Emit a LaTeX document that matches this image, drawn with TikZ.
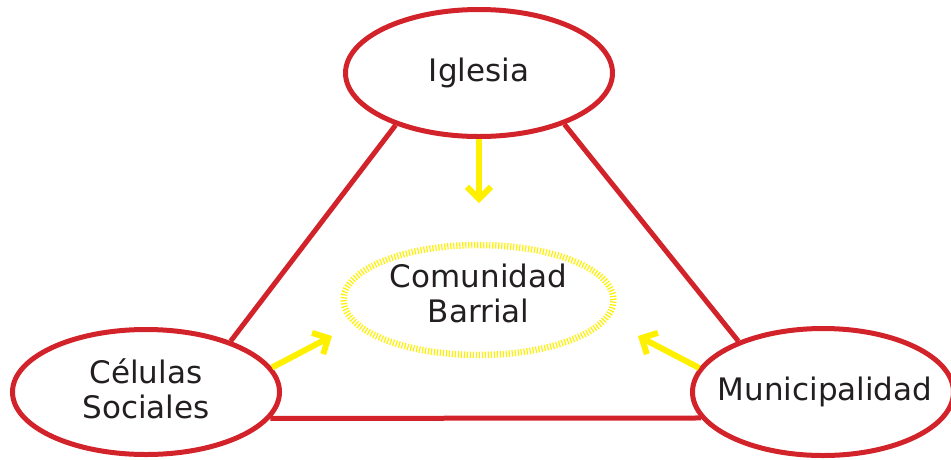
\documentclass[tikz,border=0pt]{standalone}
\usepackage{fontspec}
\setmainfont{DejaVu Sans}
\usetikzlibrary{shapes.geometric,arrows.meta}
\definecolor{redline}{RGB}{210,35,42}
\definecolor{yel}{RGB}{255,240,0}
\definecolor{txtc}{RGB}{35,31,32}
\begin{document}
\begin{tikzpicture}[x=1pt,y=-1pt,
  bubble/.style={ellipse, draw=redline, line width=5pt, fill=white, inner sep=0pt},
  lbl/.style={font=\fontsize{31}{35}\selectfont, text=txtc, align=center},
  link/.style={draw=redline, line width=5pt},
  flow/.style={draw=yel, line width=6pt, -{Straight Barb[length=12pt,width=24pt]}},
  hub/.style={ellipse, draw=yel, line width=6.5pt, dash pattern=on 1.2pt off 1.8pt, inner sep=0pt}
]
\useasboundingbox (0,0) rectangle (951,459);
\node[bubble, minimum width=267pt, minimum height=127pt, label={[lbl]center:Iglesia}] (ig) at (479,73) {};
\node[bubble, minimum width=267pt, minimum height=125pt, label={[lbl,yshift=3.5pt]center:Células\\Sociales}] (cs) at (146,392) {};
\node[bubble, minimum width=261pt, minimum height=127pt, label={[lbl,xshift=2pt]center:Municipalidad}] (mu) at (823,392) {};
\node[hub, minimum width=270pt, minimum height=110pt, label={[lbl,yshift=7pt]center:Comunidad\\Barrial}] (cb) at (478.5,300) {};

\draw[link] (ig.212) -- (cs.31);
\draw[link] (ig.329) -- (mu.149);
\draw[link] (cs.348) -- (mu.192);

\coordinate (t1) at (479,203);
\coordinate (t2) at (332,336);
\coordinate (t3) at (638,336);
\draw[flow] (ig.south) -- (t1);
\draw[flow] (cs.11) -- (t2);
\draw[flow] (mu.169) -- (t3);
\end{tikzpicture}
\end{document}
